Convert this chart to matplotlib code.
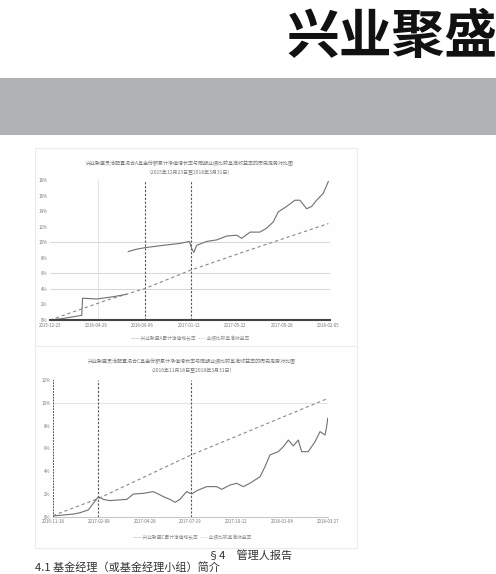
import matplotlib
matplotlib.use("Agg")
import matplotlib.pyplot as plt
from matplotlib.patches import Rectangle
import numpy as np

plt.rcParams['font.family'] = ['Noto Sans CJK SC', 'DejaVu Sans']

# chart 1 (time index 0-100, values in %)
fund1_x = [0, 4.8, 11.4, 11.7, 16.8, 22.8, 27.5, np.nan, 28.1, 31.1, 34.1, 40.7, 46.7, 50.1, 50.9, 51.7,
           52.7, 56.3, 59.9, 63.5, 67.1, 68.9, 71.9, 75.4, 77.8, 80.2, 82.0, 85.0, 88.0, 89.8,
           92.2, 94.0, 95.8, 98.2, 100]
fund1_y = [0, 0.2, 0.6, 2.8, 2.7, 3.0, 3.3, np.nan, 8.8, 9.1, 9.3, 9.6, 9.85, 10.1, 9.2, 8.7,
           9.6, 10.1, 10.3, 10.8, 10.9, 10.5, 11.3, 11.3, 11.8, 12.6, 13.9, 14.6, 15.4, 15.4,
           14.3, 14.6, 15.4, 16.3, 17.8]
bench1_x = [0, 20, 34.1, 50.5, 70, 100]
bench1_y = [0, 2.5, 4.05, 6.4, 8.8, 12.4]
ticks1_y = [0, 2, 4, 6, 8, 10, 12, 14, 16, 18]
dates1 = ['2015-12-23', '2016-04-29', '2016-09-06', '2017-01-12', '2017-05-22', '2017-09-28', '2018-02-05']
vlines1 = [34.1, 50.5]
grid1_y = [4, 6, 10]

# chart 2
fund2_x = [0, 3.8, 7.4, 9.8, 12.8, 16.5, 18.3, 20.7, 23.1, 26.8, 29.2, 32.8, 36.4, 38.2, 40.1, 42.5,
           44.3, 46.1, 48.5, 50.4, 52.2, 55.8, 59.4, 61.3, 64.3, 66.7, 69.1, 71.5, 75.2, 77.0,
           78.8, 81.8, 83.7, 85.5, 87.3, 89.1, 90.3, 92.7, 95.2, 97.0, 98.8, 99.4, 99.8]
fund2_y = [0.06, 0.15, 0.23, 0.35, 0.59, 1.76, 1.52, 1.41, 1.46, 1.52, 1.99, 2.05, 2.2, 2.0, 1.76, 1.52,
           1.26, 1.52, 2.2, 2.0, 2.28, 2.64, 2.64, 2.4, 2.78, 2.93, 2.64, 2.93, 3.51, 4.39,
           5.42, 5.71, 6.15, 6.73, 6.21, 6.73, 5.71, 5.71, 6.59, 7.47, 7.17, 7.91, 8.64]
bench2_x = [0, 16.5, 50, 75, 100]
bench2_y = [0.1, 1.6, 5.4, 7.9, 10.4]
ticks2_y = [0, 2, 4, 6, 8, 10, 12]
dates2 = ['2016-11-18', '2017-02-08', '2017-04-28', '2017-07-19', '2017-10-12', '2018-01-04', '2018-03-27']
vlines2 = [16.5, 50]

titles1 = ['兴业聚盛灵活配置混合A基金份额累计净值增长率与同期业绩比较基准收益率的历史走势对比图',
           '（2015年12月23日至2018年3月31日）']
titles2 = ['兴业聚盛灵活配置混合C基金份额累计净值增长率与同期业绩比较基准收益率的历史走势对比图',
           '（2016年11月18日至2018年3月31日）']
legend1 = '—— 兴业聚盛A累计净值增长率   - - - 业绩比较基准收益率'
legend2 = '—— 兴业聚盛C累计净值增长率   - - - 业绩比较基准收益率'

W, H = 496, 574
fig = plt.figure(figsize=(W / 100, H / 100), dpi=100)


def fx(px):
    return px / W


def fy(py):
    return 1 - py / H


# header
fig.text(fx(286), fy(38), '兴业聚盛', fontsize=38, fontweight='bold', color='#111111',
         ha='left', va='center')
fig.patches.append(Rectangle((0, fy(135)), 1, (135 - 78) / H, transform=fig.transFigure,
                             facecolor='#b1b2b5', edgecolor='none', zorder=-2))

# chart panels (kept behind the axes)
for top, bot in [(148, 346), (346, 548)]:
    fig.patches.append(Rectangle((fx(35), fy(bot)), fx(322), (bot - top) / H,
                                 transform=fig.transFigure, facecolor='#fefefe',
                                 edgecolor='#ececec', lw=0.8, zorder=-2))


def style(ax, xmax, ymax, yticks, dates, bottom_color, bottom_lw):
    ax.set_xlim(0, xmax)
    ax.set_ylim(0, ymax)
    for s in ['top', 'right', 'left']:
        ax.spines[s].set_visible(False)
    ax.spines['bottom'].set_color(bottom_color)
    ax.spines['bottom'].set_linewidth(bottom_lw)
    ax.set_yticks(yticks)
    ax.set_yticklabels([f'{v}%' for v in yticks], fontsize=3.2, color='#777777')
    ax.set_xticks(np.linspace(0, 100, len(dates)))
    ax.set_xticklabels(dates, fontsize=3.2, color='#777777')
    ax.tick_params(length=0, pad=2)
    ax.patch.set_alpha(0)


# chart 1
ax1 = fig.add_axes([fx(50), fy(320), fx(280), 140 / H])
style(ax1, 100.6, 18, ticks1_y, dates1, '#444444', 1.5)
for g in grid1_y:
    ax1.axhline(g, color='#d0d0d0', lw=0.6)
ax1.axvline(17.4, color='#e0e0e0', lw=0.6)
for v in vlines1:
    ax1.axvline(v, color='#555555', lw=0.8, ls=(0, (2, 1.5)))
ax1.plot(bench1_x, bench1_y, color='#8a8a8a', lw=0.8, ls=(0, (3, 2.5)))
ax1.plot(fund1_x, fund1_y, color='#707070', lw=0.8)
fig.text(fx(190), fy(163), titles1[0], fontsize=3.6, color='#777777', ha='center', va='center')
fig.text(fx(190), fy(173), titles1[1], fontsize=3.6, color='#777777', ha='center', va='center')
fig.text(fx(190), fy(338), legend1, fontsize=3.4, color='#888888', ha='center', va='center')

# chart 2
ax2 = fig.add_axes([fx(53), fy(516.7), fx(275.3), 136.7 / H])
style(ax2, 100, 12, ticks2_y, dates2, '#bbbbbb', 0.6)
ax2.axhline(10, color='#e0e0e0', lw=0.6)
ax2.axvline(0, color='#444444', lw=1.3, ls=(0, (1, 0.6)))
for v in vlines2:
    ax2.axvline(v, color='#555555', lw=0.8, ls=(0, (2, 1.5)))
ax2.axvline(100, color='#999999', lw=0.6)
ax2.plot(bench2_x, bench2_y, color='#8a8a8a', lw=0.8, ls=(0, (3, 2.5)))
ax2.plot(fund2_x, fund2_y, color='#707070', lw=0.8)
fig.text(fx(192), fy(361), titles2[0], fontsize=3.6, color='#777777', ha='center', va='center')
fig.text(fx(192), fy(371), titles2[1], fontsize=3.6, color='#777777', ha='center', va='center')
fig.text(fx(192), fy(537), legend2, fontsize=3.4, color='#888888', ha='center', va='center')

# report text
fig.text(fx(250), fy(555), '§4　管理人报告', fontsize=8, color='#333333', ha='center', va='center')
fig.text(fx(35), fy(568), '4.1 基金经理（或基金经理小组）简介', fontsize=8, color='#333333',
         ha='left', va='center')

fig.savefig('out.png', dpi=100)
